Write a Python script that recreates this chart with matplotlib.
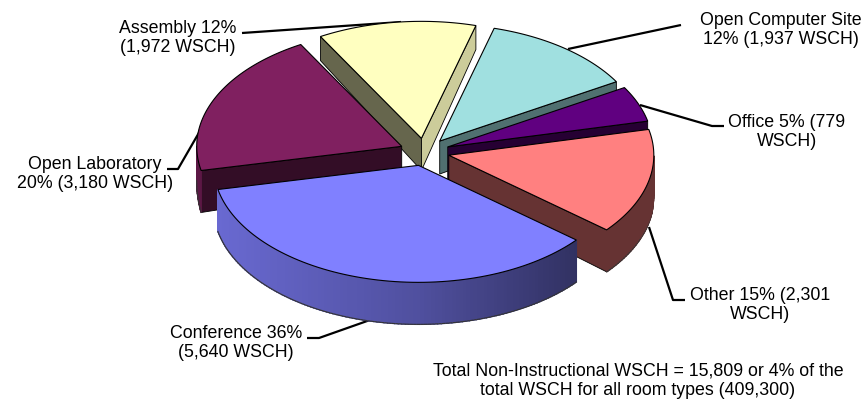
import numpy as np
import matplotlib
matplotlib.use("Agg")
import matplotlib.pyplot as plt
from matplotlib.patches import Polygon

CATEGORIES = ["Assembly", "Open Computer Site", "Office", "Other", "Conference", "Open Laboratory"]
WSCH = [1972, 1937, 779, 2301, 5640, 3180]
PERCENTS = [12, 12, 5, 15, 36, 20]
TOP_COLORS = ["#FFFFC0", "#A0E0E0", "#600080", "#FF8080", "#8080FF", "#802060"]
LABELS = [
    "Assembly 12%\n(1,972 WSCH)",
    "Open Computer Site\n12% (1,937 WSCH)",
    "Office 5% (779\nWSCH)",
    "Other 15% (2,301\nWSCH)",
    "Conference 36%\n(5,640 WSCH)",
    "Open Laboratory\n20% (3,180 WSCH)",
]
NOTE = "Total Non-Instructional WSCH = 15,809 or 4% of the\ntotal WSCH for all room types (409,300)"

# geometry of the projected pie, in pixels
CX, CY = 424.5, 152
RX, RY = 205, 117
EXPLODE = 25
START = -29.5
DRAW_ORDER = [0, 1, 2, 5, 3, 4]

LABEL_POS = [(178, 38), (781, 30), (787, 132), (760, 305), (236, 343), (95, 174)]
LEADERS = [
    [(242, 33), (401, 22)],
    [(681, 25), (568, 49)],
    [(724, 126), (712, 126), (640, 105)],
    [(685, 300), (673, 300), (649, 227)],
    [(307, 338), (319, 338), (370, 320)],
    [(167, 169), (178, 169), (219, 98)],
]


def shade(color, k):
    r, g, b = matplotlib.colors.to_rgb(color)
    return (r * k, g * k, b * k)


def depth(y):
    return np.interp(y, [35, 138, 170], [24, 32, 42])


def point(ox, oy, theta):
    t = np.radians(theta)
    return ox + RX * np.sin(t), oy - RY * np.cos(t)


def side(ax, pts, color):
    pts = np.array(pts)
    low = pts + np.column_stack([np.zeros(len(pts)), depth(pts[:, 1])])
    poly = np.vstack([pts, low[::-1]])
    ax.add_patch(Polygon(poly, closed=True, facecolor=color, edgecolor="black", lw=0.6, zorder=3))


def draw_slice(ax, t0, t1, color, is_conf):
    mid = np.radians((t0 + t1) / 2)
    ox = CX + EXPLODE * np.sin(mid)
    oy = CY - EXPLODE * 0.55 * np.cos(mid)
    apex = (ox, oy)

    # cut faces, only the ones turned to the viewer
    if np.sin(np.radians(t0)) < 0:
        side(ax, [apex, point(ox, oy, t0)], shade(color, 0.4))
    if np.sin(np.radians(t1)) > 0:
        k = 0.8 if color == "#FFFFC0" else (0.5 if color == "#A0E0E0" else 0.4)
        side(ax, [apex, point(ox, oy, t1)], shade(color, k))

    # outer rim, front half only
    steps = np.arange(t0, t1, 1.0)
    for a in steps:
        b = min(a + 1.0, t1)
        if np.cos(np.radians((a + b) / 2)) > 0:
            continue
        p0, p1 = point(ox, oy, a), point(ox, oy, b)
        if is_conf:
            k = np.interp((p0[0] + p1[0]) / 2, [218, 420, 579], [0.82, 0.62, 0.38])
        elif color == "#802060":
            k = 0.72
        else:
            k = 0.4
        pts = np.array([p0, p1])
        low = pts + np.column_stack([np.zeros(2), depth(pts[:, 1])])
        c = shade(color, k)
        ax.add_patch(Polygon(np.vstack([pts, low[::-1]]), closed=True, facecolor=c, edgecolor=c, lw=1.0, zorder=3))
        ax.plot(low[:, 0], low[:, 1], color="#333333", lw=0.8, zorder=3)

    arc = [point(ox, oy, a) for a in np.linspace(t0, t1, 80)]
    ax.add_patch(Polygon([apex] + arc, closed=True, facecolor=color, edgecolor="black", lw=0.8, zorder=3))


def main():
    plt.rcParams["font.family"] = ["Liberation Sans", "DejaVu Sans"]
    fig = plt.figure(figsize=(8.67, 4.03), dpi=100)
    ax = fig.add_axes([0, 0, 1, 1])
    ax.set_xlim(0, 867)
    ax.set_ylim(403, 0)
    ax.axis("off")

    sweep = np.array(WSCH) / sum(WSCH) * 360
    edges = START + np.concatenate([[0], np.cumsum(sweep)])

    for line in LEADERS:
        xs, ys = zip(*line)
        ax.plot(xs, ys, color="black", lw=1.6, solid_capstyle="butt", zorder=1)

    for i in DRAW_ORDER:
        draw_slice(ax, edges[i], edges[i + 1], TOP_COLORS[i], CATEGORIES[i] == "Conference")

    for label, (x, y) in zip(LABELS, LABEL_POS):
        ax.text(x, y, label, ha="center", va="center", fontsize=12.8, linespacing=1.2, color="black", zorder=4)
    ax.text(638, 381, NOTE, ha="center", va="center", fontsize=12.8, linespacing=1.2, color="black", zorder=4)

    fig.savefig("out.png", dpi=100)


if __name__ == "__main__":
    main()
